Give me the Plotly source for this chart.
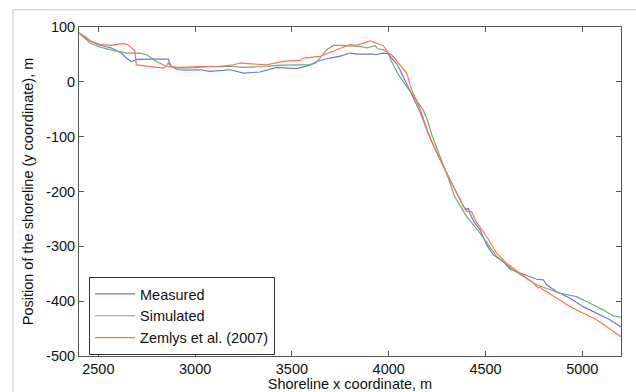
import plotly.graph_objects as go

# ---- data ----
measured_x = [2400, 2447, 2498, 2567, 2618, 2644, 2670, 2698, 2780, 2861, 2876, 2911, 2960, 3025, 3077,
              3130, 3180, 3249, 3335, 3421, 3480, 3525, 3590, 3628, 3697, 3750, 3800, 3835, 3920, 3929,
              3972, 3998, 4023, 4041, 4058, 4093, 4127, 4161, 4213, 4230, 4282, 4334, 4386, 4403,
              4411, 4420, 4440, 4472, 4506, 4540, 4592, 4627, 4661, 4730, 4765, 4799, 4816, 4868,
              4937, 5005, 5074, 5143, 5200]
measured_y = [89.6, 76.8, 67.7, 61.7, 52.5, 43.4, 37.0, 41.0, 41.3, 41.6, 28.0, 22.0, 21.5, 22.0, 19.0,
              21.0, 22.0, 16.0, 17.9, 26.3, 24.5, 24.0, 30.0, 37.2, 43.4, 47.0, 52.5, 50.7, 50.7, 49.4,
              52.5, 51.2, 40.0, 33.0, 22.0, -4.0, -27.0, -54.0, -102.0, -115.0, -154.0, -191.0, -227.0, -233.0,
              -231.0, -240.0, -255.0, -270.0, -297.0, -315.6, -328.0, -341.8, -346.0, -355.0, -360.0, -361.0, -370.0, -382.6,
              -394.7, -410.0, -422.0, -434.0, -447.0]

simulated_x = [2400, 2457, 2510, 2560, 2646, 2715, 2750, 2800, 2853, 2921, 3000, 3077, 3196, 3249,
               3369, 3421, 3542, 3593, 3620, 3645, 3680, 3714, 3748, 3852, 3886, 3929, 3946, 3972,
               3998, 4015, 4050, 4084, 4118, 4144, 4178, 4200, 4226, 4265, 4299, 4340, 4403, 4472,
               4523, 4558, 4644, 4764, 4885, 4971, 5040, 5109, 5160, 5200]
simulated_y = [89.0, 70.8, 63.0, 58.6, 52.5, 52.5, 49.4, 37.2, 28.0, 25.0, 26.0, 28.0, 28.0, 26.3,
               28.0, 30.0, 31.0, 31.2, 34.0, 43.4, 58.6, 66.4, 66.4, 64.6, 61.7, 66.0, 60.0, 58.6,
               52.5, 37.0, 13.0, -4.0, -20.5, -32.7, -51.0, -70.0, -100.0, -136.0, -166.5, -209.0, -245.7, -276.0,
               -300.0, -318.7, -343.0, -370.0, -385.6, -391.8, -403.8, -416.0, -427.0, -429.0]

zemlys_x = [2400, 2429, 2464, 2515, 2567, 2629, 2653, 2680, 2688, 2696, 2739, 2835, 2850, 2861, 2876,
            2911, 2956, 3014, 3117, 3196, 3232, 3300, 3369, 3455, 3542, 3559, 3645, 3731, 3800, 3835,
            3903, 3972, 3998, 4015, 4058, 4093, 4118, 4161, 4196, 4222, 4282, 4334, 4386, 4403, 4428,
            4446, 4506, 4558, 4609, 4678, 4747, 4773, 4782, 4790, 4816, 4868, 4937, 5005, 5074, 5126,
            5177, 5200]
zemlys_y = [89.0, 83.0, 73.7, 67.7, 66.4, 70.0, 67.7, 58.6, 57.0, 31.0, 29.0, 25.0, 28.0, 34.3, 28.0,
            26.3, 27.0, 28.0, 28.0, 31.0, 34.3, 32.0, 31.0, 37.2, 39.0, 43.4, 46.3, 58.6, 67.7, 66.4,
            74.5, 65.9, 52.5, 49.4, 31.0, 16.0, -14.5, -48.0, -84.4, -108.8, -154.0, -191.0, -227.0, -236.6, -236.6,
            -251.8, -282.0, -312.5, -331.0, -349.0, -367.0, -376.4, -373.5, -378.0, -382.6, -394.7, -410.0, -422.0, -434.0, -446.5,
            -458.6, -465.0]

series_names = ["Measured", "Simulated", "Zemlys et al. (2007)"]
x_ticks = [2500, 3000, 3500, 4000, 4500, 5000]
y_ticks = [100, 0, -100, -200, -300, -400, -500]

colors = ["#7474d4", "#72aa72", "#ff7456"]

fig = go.Figure()
for name, xs, ys, c in zip(series_names,
                           [measured_x, simulated_x, zemlys_x],
                           [measured_y, simulated_y, zemlys_y],
                           colors):
    fig.add_trace(go.Scatter(x=xs, y=ys, mode="lines", name=name,
                             line=dict(color=c, width=1.2)))

font_family = "Liberation Sans, Arial, sans-serif"
axis_common = dict(showgrid=False, zeroline=False, showline=True, linecolor="#555555",
                   linewidth=1, mirror="ticks", ticks="inside", ticklen=5, tickcolor="#555555",
                   automargin=False,
                   tickfont=dict(family=font_family, size=14.5, color="#111111"))

fig.update_layout(
    width=636, height=392,
    margin=dict(l=79, r=15, t=27, b=36),
    paper_bgcolor="white", plot_bgcolor="white",
    font=dict(family=font_family, size=14.5, color="#111111"),
    xaxis=dict(range=[2400, 5200], tickvals=x_ticks, ticktext=[str(v) for v in x_ticks],
               title=dict(text="Shoreline x coordinate, m", standoff=0,
                          font=dict(family=font_family, size=14.5)),
               **axis_common),
    yaxis=dict(range=[-500, 100], tickvals=y_ticks, ticktext=[str(v) for v in y_ticks],
               title=dict(text="Position of the shoreline (y coordinate), m", standoff=8,
                          font=dict(family=font_family, size=14.5)),
               **axis_common),
    legend=dict(x=0.0185, y=0.1217, xanchor="left", yanchor="middle",
                bordercolor="#333333", borderwidth=1, bgcolor="white",
                font=dict(family=font_family, size=14.5), tracegroupgap=0,
                itemwidth=40),
    showlegend=True,
)

# light gray outer frame (top and left edges; the rest lies outside the page)
frame_line = dict(color="#d6d6d6", width=1.5)
fig.add_shape(type="line", xref="paper", yref="paper",
              x0=-0.1218, y0=1.0527, x1=1.1, y1=1.0527, line=frame_line, layer="above")
fig.add_shape(type="line", xref="paper", yref="paper",
              x0=-0.1218, y0=-0.2, x1=-0.1218, y1=1.0527, line=frame_line, layer="above")

fig.write_html("out.html", config={"displayModeBar": False},
               post_script="document.body.style.margin='0';")
